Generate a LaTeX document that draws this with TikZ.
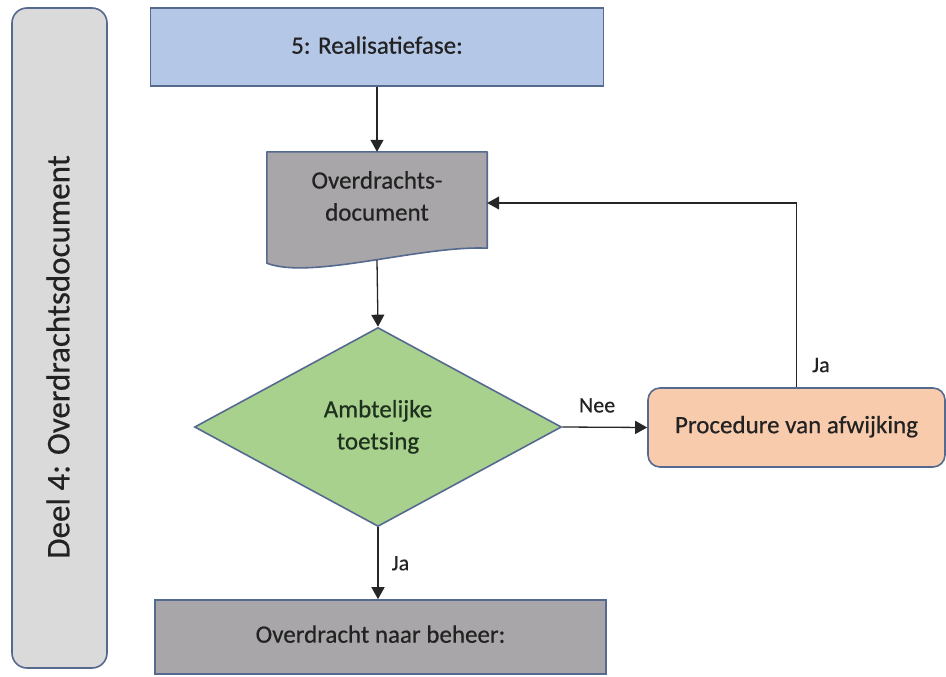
\documentclass[tikz,border=0pt]{standalone}
\usepackage{fontspec}
\setmainfont{Carlito}[FakeBold=0.5]
\usetikzlibrary{shapes.geometric,arrows.meta,calc,backgrounds}

\definecolor{panelfill}{HTML}{DADADA}
\definecolor{edge}{HTML}{56698F}
\definecolor{bluefill}{HTML}{B4C7E7}
\definecolor{grayfill}{HTML}{A8A6A8}
\definecolor{greenfill}{HTML}{A9D18E}
\definecolor{peachfill}{HTML}{F8CBAD}
\definecolor{ink}{HTML}{222222}
\definecolor{greenink}{HTML}{1E301E}

\tikzset{
  box/.style={draw=edge, line width=1.6pt, text=ink, inner sep=0pt,
    font=\fontsize{25}{32}\selectfont},
  conn/.style={draw=black!85, line width=1.3pt,
    -{Triangle[length=12pt,width=13pt]}},
  lbl/.style={text=ink, inner sep=0pt, font=\fontsize{22}{26}\selectfont},
}

\begin{document}
\begin{tikzpicture}[x=1pt,y=-1pt]
\useasboundingbox (0,0) rectangle (946,677);

% side panel with its vertical title
\node[box, fill=panelfill, rounded corners=15pt,
      minimum width=95pt, minimum height=660pt] (panel) at (59.5,338) {};
\node[text=ink, rotate=90, inner sep=0pt,
      font=\fontsize{33}{40}\selectfont] (paneltitle) at (58,357)
      {Deel 4: Overdrachtsdocument};

% phase boxes
\node[box, fill=bluefill, minimum width=453pt, minimum height=78pt]
  (real) at (377,47) {\raisebox{4pt}{5: Realisatiefase:}};
\node[box, fill=grayfill, minimum width=451pt, minimum height=74pt]
  (beheer) at (380.5,637) {\raisebox{6pt}{Overdracht naar beheer:}};

% document with wavy bottom edge
\node[text=ink, inner sep=0pt, align=center,
      font=\fontsize{25}{32}\selectfont,
      minimum width=220pt, minimum height=88pt] (doc) at (377,196)
      {Overdrachts-\\document};
\begin{scope}[on background layer]
\path[fill=grayfill, draw=edge, line width=1.6pt, line join=round]
  (doc.north west) -- (doc.north east) -- ($(doc.south east)+(0,8)$)
  .. controls ($(doc.south east)+(-66,5)$) and ($(doc.south west)+(44,40)$)
  .. ($(doc.south west)+(0,23)$) -- cycle;
\end{scope}

% decision
\node[box, diamond, fill=greenfill, text=greenink, align=center,
      minimum width=367pt, minimum height=199pt]
  (check) at (378,427) {\raisebox{6pt}{\begin{tabular}{@{}c@{}}Ambtelijke\\toetsing\end{tabular}}};

% deviation procedure
\node[box, fill=peachfill, rounded corners=12pt,
      minimum width=297pt, minimum height=79pt]
  (proc) at (796.5,427.5) {\raisebox{6pt}{Procedure van afwijking}};

% connectors
\draw[conn] (real.south) -- (real.south |- doc.north);
\draw[conn] ($(doc.south)+(0,20)$) -- (check.north);
\draw[conn] (check.east) -- node[lbl, pos=0.41, above=14pt] {Nee} (proc.west);
\draw[conn] (proc.north) |- node[lbl, pos=0.06, anchor=west, xshift=15pt] {Ja}
  ($(doc.east)+(0,7)$);
\draw[conn] (check.south) -- node[lbl, midway, anchor=west, xshift=13pt] {Ja}
  (check.south |- beheer.north);
\end{tikzpicture}
\end{document}
